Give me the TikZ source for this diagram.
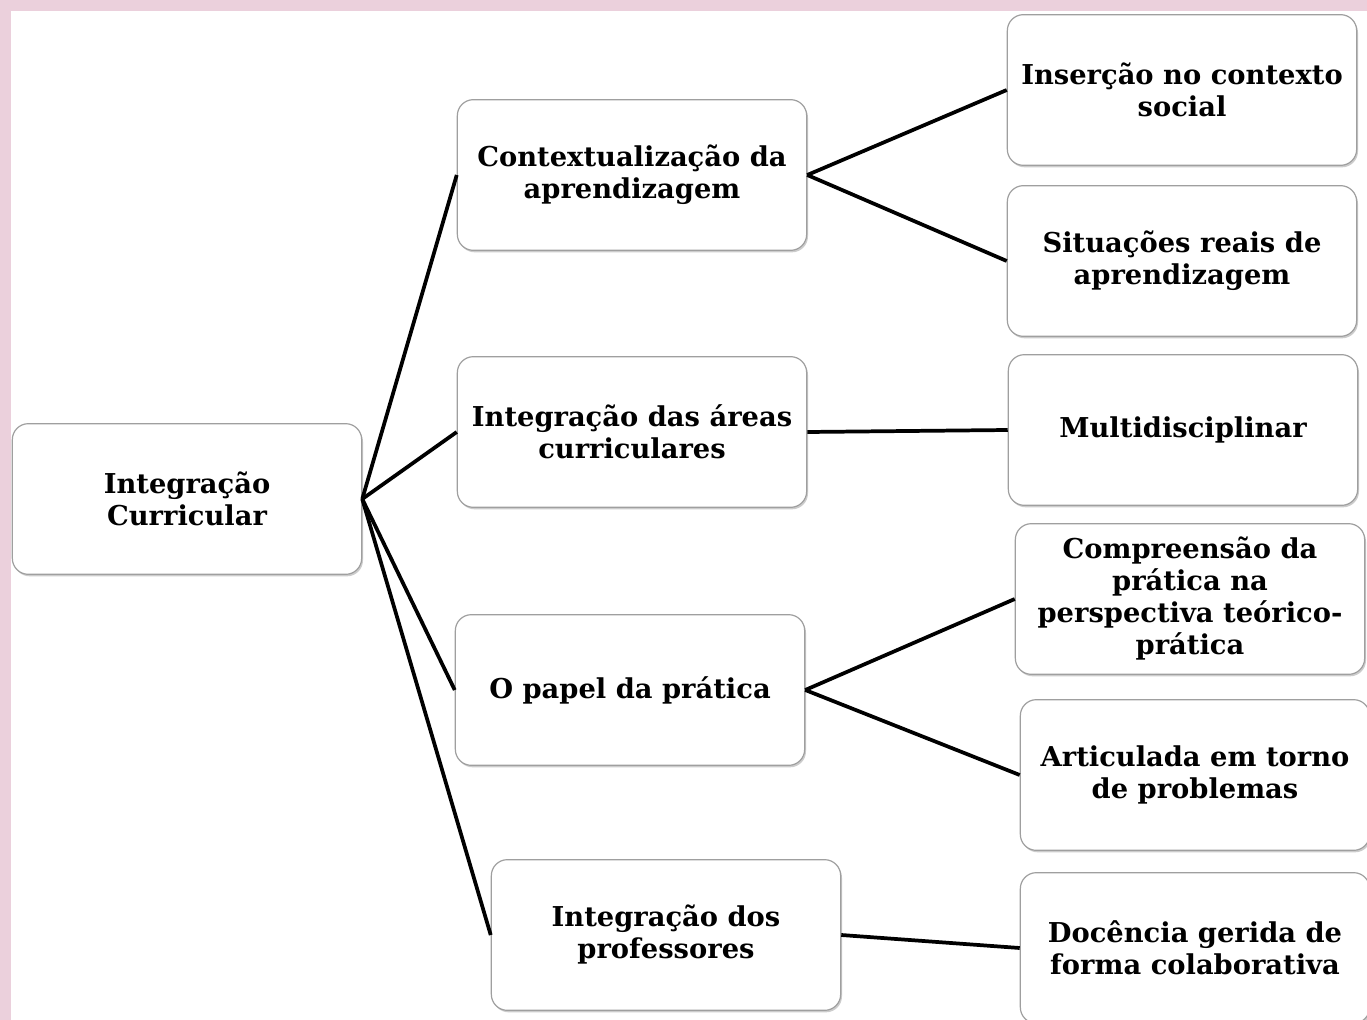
\documentclass[tikz,border=0pt]{standalone}
\usepackage{fontspec}
\setmainfont{DejaVu Serif}
\usetikzlibrary{shadows}
\definecolor{rim}{HTML}{EBD0DC}
\begin{document}
\begin{tikzpicture}[
  x=0.75pt, y=-0.75pt,
  box/.style={rectangle, rounded corners=12pt, draw=gray!75, line width=0.9pt,
    fill=white, drop shadow={shadow xshift=1pt, shadow yshift=-1.5pt, opacity=0.4},
    minimum width=262pt, minimum height=113pt, align=center,
    font=\fontsize{20.5}{24}\selectfont\bfseries},
  link/.style={line width=2.8pt, black}
  ]
  \useasboundingbox (0,0) rectangle (1367,1020);
  \fill[rim] (0,0) rectangle (1367,1020);
  \fill[white] (11,11) rectangle (1367,1020);
  % root
  \node [box] (ic) at (187,499) {Integração\\Curricular};
  % first level
  \node [box] (ctx) at (632,175) {Contextualização da\\aprendizagem};
  \node [box] (areas) at (632,432) {Integração das áreas\\curriculares};
  \node [box] (prat) at (630,690) {O papel da prática};
  \node [box] (prof) at (666,935) {Integração dos\\professores};
  % second level
  \node [box] (ins) at (1182,90) {Inserção no contexto\\social};
  \node [box] (sit) at (1182,261) {Situações reais de\\aprendizagem};
  \node [box] (multi) at (1183,430) {Multidisciplinar};
  \node [box] (comp) at (1190,599) {Compreensão da\\prática na\\perspectiva teórico-\\prática};
  \node [box] (art) at (1195,775) {Articulada em torno\\de problemas};
  \node [box] (doc) at (1195,948) {Docência gerida de\\forma colaborativa};
  % connectors
  \foreach \t in {ctx,areas,prat,prof}
    \draw [link] (ic.east) -- (\t.west);
  \draw [link] (ctx.east) -- (ins.west);
  \draw [link] (ctx.east) -- (sit.west);
  \draw [link] (areas.east) -- (multi.west);
  \draw [link] (prat.east) -- (comp.west);
  \draw [link] (prat.east) -- (art.west);
  \draw [link] (prof.east) -- (doc.west);
\end{tikzpicture}
\end{document}
